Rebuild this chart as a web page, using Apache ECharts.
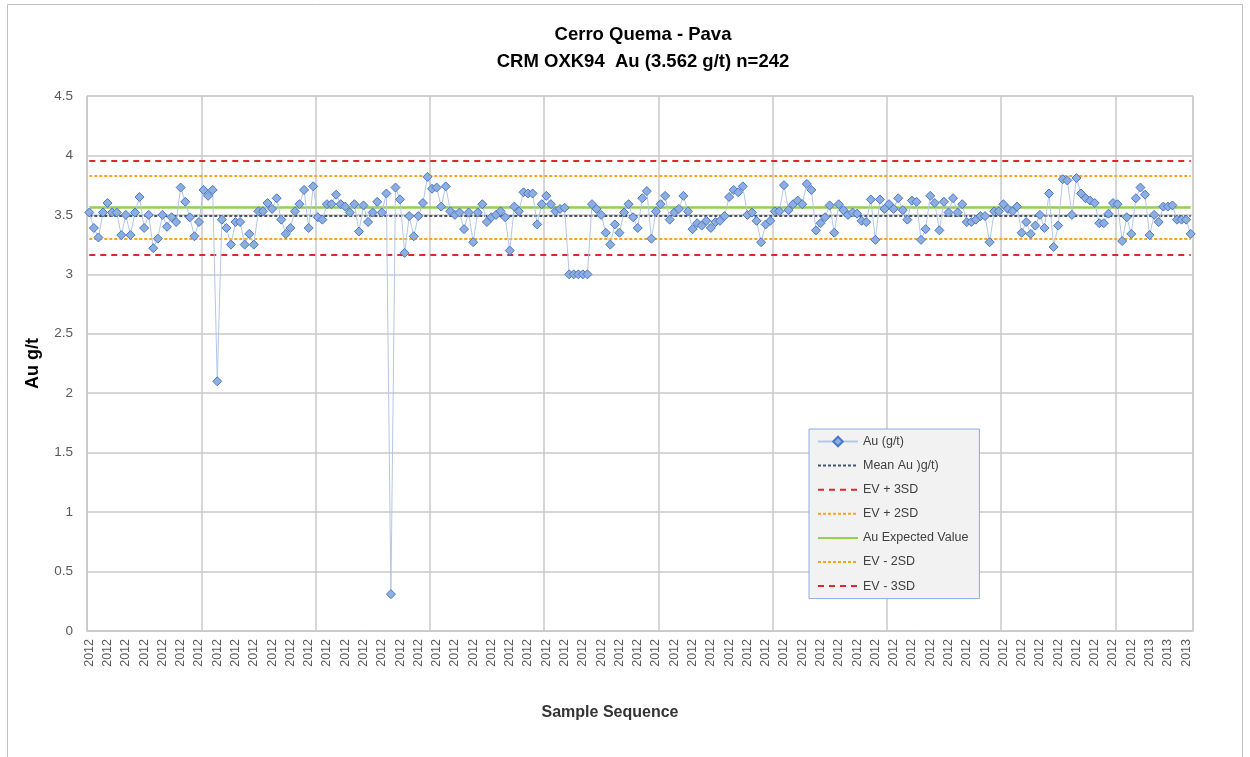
<!DOCTYPE html>
<html>
<head>
<meta charset="utf-8">
<script src="https://cdn.jsdelivr.net/npm/echarts@6/dist/echarts.min.js"></script>
<style>html,body{margin:0;padding:0;background:#fff;}#c{width:1250px;height:757px;}</style>
</head>
<body>
<div id="c"></div>
<script>
// Au (g/t) values for 242 CRM OXK94 samples
const auValues = [
  3.52,3.39,3.31,3.52,3.60,3.52,3.52,3.33,3.50,3.33,
  3.52,3.65,3.39,3.50,3.22,3.30,3.50,3.40,3.48,3.44,
  3.73,3.61,3.48,3.32,3.44,3.71,3.66,3.71,2.10,3.46,
  3.39,3.25,3.44,3.44,3.25,3.34,3.25,3.53,3.53,3.60,
  3.55,3.64,3.46,3.34,3.39,3.53,3.59,3.71,3.39,3.74,
  3.48,3.46,3.59,3.59,3.67,3.59,3.57,3.52,3.59,3.36,
  3.58,3.44,3.52,3.61,3.52,3.68,0.31,3.73,3.63,3.18,
  3.49,3.32,3.49,3.60,3.82,3.72,3.73,3.57,3.74,3.53,
  3.50,3.52,3.38,3.52,3.27,3.52,3.59,3.44,3.48,3.50,
  3.53,3.48,3.20,3.57,3.53,3.69,3.68,3.68,3.42,3.59,
  3.66,3.59,3.53,3.55,3.56,3.00,3.00,3.00,3.00,3.00,
  3.59,3.55,3.50,3.35,3.25,3.42,3.35,3.52,3.59,3.48,
  3.39,3.64,3.70,3.30,3.53,3.59,3.66,3.46,3.52,3.55,
  3.66,3.53,3.38,3.43,3.41,3.45,3.39,3.44,3.45,3.49,
  3.65,3.71,3.69,3.74,3.50,3.52,3.45,3.27,3.42,3.45,
  3.53,3.53,3.75,3.54,3.59,3.62,3.59,3.76,3.71,3.37,
  3.43,3.48,3.58,3.35,3.59,3.54,3.50,3.52,3.51,3.45,
  3.44,3.63,3.29,3.63,3.55,3.59,3.55,3.64,3.54,3.46,
  3.62,3.61,3.29,3.38,3.66,3.60,3.37,3.61,3.52,3.64,
  3.52,3.59,3.44,3.44,3.46,3.49,3.49,3.27,3.53,3.53,
  3.59,3.55,3.53,3.57,3.35,3.44,3.34,3.41,3.50,3.39,
  3.68,3.23,3.41,3.80,3.79,3.50,3.81,3.68,3.64,3.62,
  3.60,3.43,3.43,3.51,3.60,3.59,3.28,3.48,3.34,3.64,
  3.73,3.67,3.33,3.50,3.44,3.57,3.57,3.58,3.46,3.46,
  3.46,3.34
];
// sample sequence labels (year of each sample)
const sampleYears = [].concat(Array(230).fill('2012'), Array(12).fill('2013'));
// reference line values
const meanAu = 3.49;
const expectedValue = 3.562;
const evPlus3SD = 3.958;
const evPlus2SD = 3.826;
const evMinus2SD = 3.298;
const evMinus3SD = 3.166;
const yTicks = { min: 0, max: 4.5, interval: 0.5 };
const legendNames = ['Au (g/t)', 'Mean Au )g/t)', 'EV + 3SD', 'EV + 2SD', 'Au Expected Value', 'EV - 2SD', 'EV - 3SD'];

const FONT = "'Liberation Sans', Arial, sans-serif";
const lastIdx = sampleYears.length - 1;

function refSeries(name, value, color, width, dash) {
  const ls = { color: color, width: width, type: dash };
  return {
    name: name,
    type: 'line',
    data: [],
    symbol: 'none',
    itemStyle: { color: color, opacity: 0 },
    lineStyle: ls,
    z: name === 'Au Expected Value' ? 3 : 2,
    markLine: {
      silent: true,
      symbol: 'none',
      label: { show: false },
      lineStyle: ls,
      animation: false,
      data: [[{ coord: [0, value] }, { coord: [lastIdx, value] }]]
    }
  };
}

const chart = echarts.init(document.getElementById('c'), null, { renderer: 'canvas' });
chart.setOption({
  animation: false,
  backgroundColor: '#ffffff',
  textStyle: { fontFamily: FONT },
  graphic: [{
    type: 'rect',
    shape: { x: 7.5, y: 4.5, width: 1235, height: 770 },
    style: { fill: 'none', stroke: '#c0c0c0', lineWidth: 1 },
    silent: true, z: -10
  }],
  title: {
    text: 'Cerro Quema - Pava\nCRM OXK94  Au (3.562 g/t) n=242',
    left: 638, top: 16, textAlign: 'center',
    textStyle: { fontFamily: FONT, fontSize: 18.5, fontWeight: 'bold', color: '#000', lineHeight: 27 }
  },
  grid: { left: 87, right: 57, top: 96, bottom: 126, show: true, borderColor: '#c8c8c8', borderWidth: 1, containLabel: false },
  legend: {
    orient: 'vertical',
    left: 809, top: 429,
    padding: [6, 11, 6, 8],
    itemWidth: 40, itemHeight: 12, itemGap: 11.1,
    backgroundColor: '#f2f2f2',
    borderColor: '#8eaadb', borderWidth: 1,
    textStyle: { fontFamily: FONT, fontSize: 12.5, color: '#404040' },
    data: legendNames.map(function (n, i) {
      return i === 0 ? { name: n } : { name: n, itemStyle: { opacity: 0 } };
    })
  },
  xAxis: {
    type: 'category',
    data: sampleYears,
    boundaryGap: true,
    name: 'Sample Sequence',
    nameLocation: 'middle',
    nameGap: 74,
    nameTextStyle: { fontFamily: FONT, fontSize: 16, fontWeight: 'bold', color: '#333', padding: [0, 60, 0, 0] },
    axisLine: { show: true, lineStyle: { color: '#c8c8c8', width: 1 } },
    axisTick: { show: false },
    axisLabel: { interval: 3, rotate: 90, fontSize: 12.5, color: '#595959', margin: 8, fontFamily: FONT },
    splitLine: { show: true, interval: 24, lineStyle: { color: '#c8c8c8', width: 1.5 } }
  },
  yAxis: {
    type: 'value',
    min: yTicks.min, max: yTicks.max, interval: yTicks.interval,
    name: 'Au g/t',
    nameLocation: 'middle',
    nameGap: 45,
    nameRotate: 90,
    nameTextStyle: { fontFamily: FONT, fontSize: 18, fontWeight: 'bold', color: '#000' },
    axisLine: { show: true, lineStyle: { color: '#c8c8c8' } },
    axisTick: { show: false },
    axisLabel: { fontSize: 13.5, color: '#595959', margin: 14, fontFamily: FONT },
    splitLine: { show: true, lineStyle: { color: '#c8c8c8', width: 1.5 } }
  },
  series: [
    {
      name: 'Au (g/t)',
      type: 'line',
      data: auValues,
      symbol: 'diamond',
      symbolSize: 9,
      showAllSymbol: true,
      itemStyle: { color: '#8eaee0', borderColor: '#4a78c6', borderWidth: 1 },
      lineStyle: { color: '#b4c7e7', width: 1 },
      z: 5
    },
    refSeries('Mean Au )g/t)', meanAu, '#44546a', 1.8, [3, 2]),
    refSeries('EV + 3SD', evPlus3SD, '#e0262a', 2, [6, 5]),
    refSeries('EV + 2SD', evPlus2SD, '#ffa31a', 1.8, [3, 2]),
    refSeries('Au Expected Value', expectedValue, '#92d050', 2.5, 'solid'),
    refSeries('EV - 2SD', evMinus2SD, '#ffa31a', 1.8, [3, 2]),
    refSeries('EV - 3SD', evMinus3SD, '#e0262a', 2, [6, 5])
  ]
});
</script>
</body>
</html>
